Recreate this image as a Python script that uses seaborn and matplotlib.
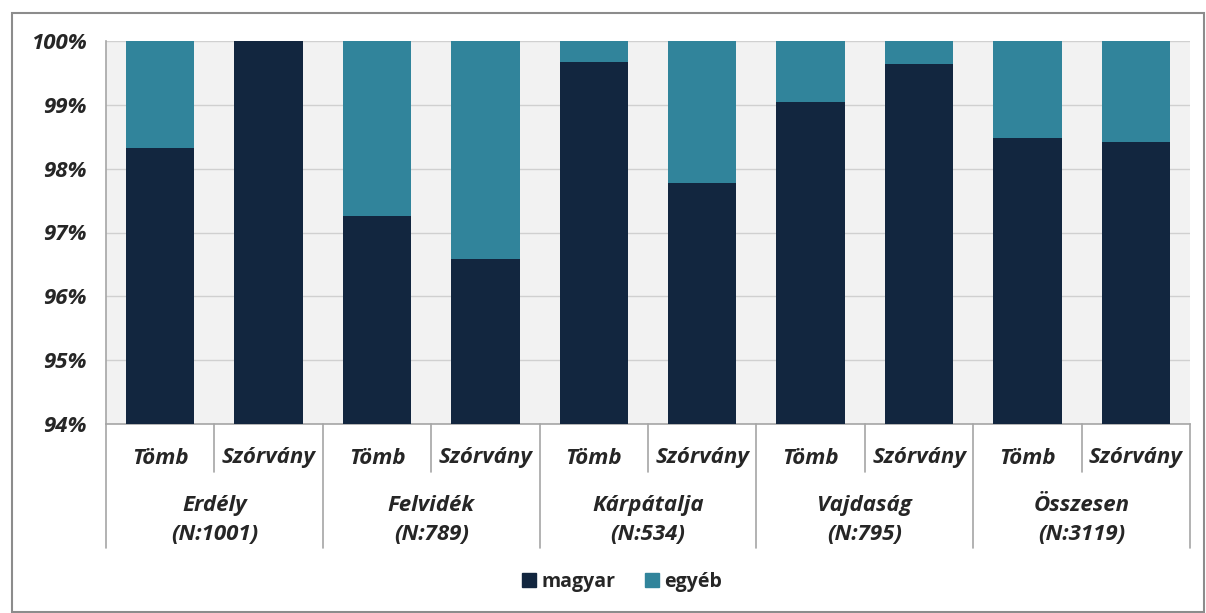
import matplotlib.pyplot as plt
import matplotlib.patches as mpatches
import pandas as pd
import seaborn as sns

# Data
groups = ["Erdély\n(N:1001)", "Felvidék\n(N:789)", "Kárpátalja\n(N:534)",
          "Vajdaság\n(N:795)", "Összesen\n(N:3119)"]
subs = ["Tömb", "Szórvány"]
magyar = [98.33, 100.0, 97.26, 96.58, 99.67, 97.78, 99.04, 99.64, 98.48, 98.42]
egyeb = [100 - v for v in magyar]

dark = "#12263f"
teal = "#31849b"

df = pd.DataFrame({
    "bar": [f"{g.split(chr(10))[0]} {s}" for g in groups for s in subs],
    "sub": [s for g in groups for s in subs],
    "magyar": magyar,
    "egyeb": egyeb,
})
df["total"] = df["magyar"] + df["egyeb"]

sns.set_style("white")
plt.rcParams["font.family"] = ["Open Sans", "DejaVu Sans"]

fig = plt.figure(figsize=(12.06, 6.13), dpi=100)
ax = fig.add_axes([106 / 1206, 1 - 424 / 613, (1190 - 106) / 1206, (424 - 41) / 613])
ax.set_facecolor("#f2f2f2")

# stacked bars: total (egyéb on top) then magyar
sns.barplot(data=df, x="bar", y="total", color=teal, width=0.63, ax=ax,
            saturation=1, linewidth=0, zorder=2)
sns.barplot(data=df, x="bar", y="magyar", color=dark, width=0.63, ax=ax,
            saturation=1, linewidth=0, zorder=3)

fs = 16
ax.set_ylim(94, 100)
ax.set_xlim(-0.5, len(df) - 0.5)
ax.set_yticks(range(94, 101))
ax.set_yticklabels([f"{t}%" for t in range(94, 101)], fontsize=fs,
                   fontweight="bold", fontstyle="italic")
ax.yaxis.grid(True, color="#d0d0d0", linewidth=1, zorder=0)
ax.set_axisbelow(True)
ax.tick_params(axis="y", length=6, color="#a6a6a6", pad=8)
ax.tick_params(axis="x", length=0, labelbottom=False)
ax.set_xlabel("")
ax.set_ylabel("")
for side in ["top", "right"]:
    ax.spines[side].set_visible(False)
for side in ["left", "bottom"]:
    ax.spines[side].set_color("#a6a6a6")
    ax.spines[side].set_linewidth(1.2)

# two level category labels
trans = ax.get_xaxis_transform()
h_ax = (424 - 41) / 613  # axes height in fig fraction
def fy(px):
    # pixels below plot bottom -> axes coordinates
    return -px / 613 / h_ax

for i, s in enumerate(df["sub"]):
    ax.text(i, fy(34), s, transform=trans, ha="center", va="center",
            fontsize=fs, fontweight="bold", fontstyle="italic", clip_on=False)
for gi, g in enumerate(groups):
    ax.text(gi * 2 + 0.5, fy(96), g, transform=trans, ha="center", va="center",
            fontsize=fs, fontweight="bold", fontstyle="italic",
            linespacing=1.45, clip_on=False)
for gi in range(len(groups)):
    ax.plot([gi * 2 + 0.5] * 2, [0, fy(48)], transform=trans, color="#a6a6a6",
            linewidth=1.2, clip_on=False)
for gi in range(len(groups) + 1):
    ax.plot([gi * 2 - 0.5] * 2, [0, fy(124)], transform=trans, color="#a6a6a6",
            linewidth=1.2, clip_on=False)

handles = [mpatches.Patch(color=dark, label="magyar"),
           mpatches.Patch(color=teal, label="egyéb")]
fig.legend(handles=handles, loc="center", bbox_to_anchor=(0.516, 1 - 582 / 613),
           ncol=2, frameon=False, prop={"weight": "bold", "size": 14},
           handlelength=0.7, handleheight=0.7, columnspacing=1.5, handletextpad=0.3)

# outer frame
fig.patches.append(mpatches.Rectangle((12 / 1206, 0.002), 1192 / 1206, 1 - 13 / 613 - 0.002,
                                      transform=fig.transFigure, fill=False,
                                      edgecolor="#8c8c8c", linewidth=1.5))

fig.savefig("out.png", dpi=100)
